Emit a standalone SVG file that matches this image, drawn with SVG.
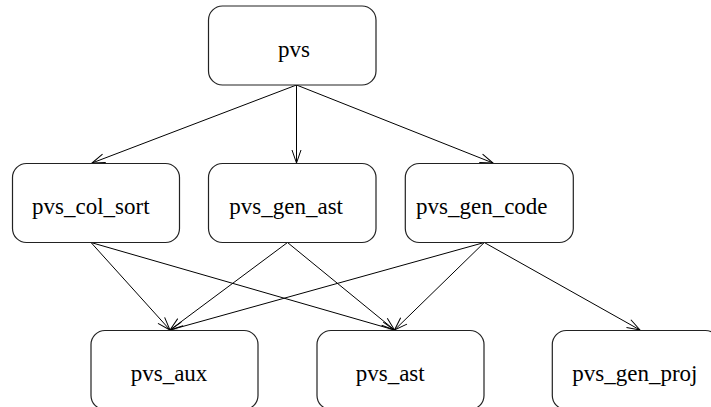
<svg xmlns="http://www.w3.org/2000/svg" width="711" height="407" viewBox="0 0 711 407">
<style>
.box{fill:#fff;stroke:#222;stroke-width:1.2}
.lbl{font-family:'Liberation Serif','Times New Roman',Times,'DejaVu Serif',serif;font-size:23px;fill:#000}
.edge{stroke:#000;stroke-width:1;fill:none;marker-end:url(#arr)}
</style>
<defs>
<marker id="arr" markerUnits="userSpaceOnUse" markerWidth="14" markerHeight="12" refX="13" refY="5" orient="auto" overflow="visible">
<path d="M0,0.5 L13,5 L0,9.5" fill="none" stroke="#000" stroke-width="1"/>
</marker>
</defs>
<rect width="711" height="407" fill="#fff"/>
<g id="connectors">
<line class="edge" x1="296.5" y1="85" x2="92" y2="163"/>
<line class="edge" x1="296.5" y1="85" x2="296.5" y2="163"/>
<line class="edge" x1="296.5" y1="85" x2="493" y2="163"/>
<line class="edge" x1="91" y1="242.5" x2="170" y2="330"/>
<line class="edge" x1="91" y1="242.5" x2="394.5" y2="330"/>
<line class="edge" x1="287.5" y1="242.5" x2="170" y2="330"/>
<line class="edge" x1="287.5" y1="242.5" x2="394.5" y2="330"/>
<line class="edge" x1="484.3" y1="242.5" x2="170" y2="330"/>
<line class="edge" x1="484.3" y1="242.5" x2="394.5" y2="330"/>
<line class="edge" x1="484.3" y1="242.5" x2="640" y2="330"/>
</g>
<g id="pvs"><rect class="box" x="208.5" y="6" width="167.5" height="79" rx="14"/><text class="lbl" x="278" y="56.5">pvs</text></g>
<g id="pvs_col_sort"><rect class="box" x="12.5" y="163.5" width="167" height="79" rx="14"/><text class="lbl" x="32" y="214">pvs_col_sort</text></g>
<g id="pvs_gen_ast"><rect class="box" x="208.5" y="163.5" width="167.5" height="79" rx="14"/><text class="lbl" x="229.3" y="214">pvs_gen_ast</text></g>
<g id="pvs_gen_code"><rect class="box" x="405.3" y="163.5" width="168" height="79" rx="14"/><text class="lbl" x="416" y="214">pvs_gen_code</text></g>
<g id="pvs_aux"><rect class="box" x="91" y="330.5" width="167" height="79" rx="14"/><text class="lbl" x="130.7" y="381">pvs_aux</text></g>
<g id="pvs_ast"><rect class="box" x="317" y="330.5" width="167" height="79" rx="14"/><text class="lbl" x="355.7" y="381">pvs_ast</text></g>
<g id="pvs_gen_proj"><rect class="box" x="552.3" y="330.5" width="167" height="79" rx="14"/><text class="lbl" x="572.3" y="381">pvs_gen_proj</text></g>
</svg>
